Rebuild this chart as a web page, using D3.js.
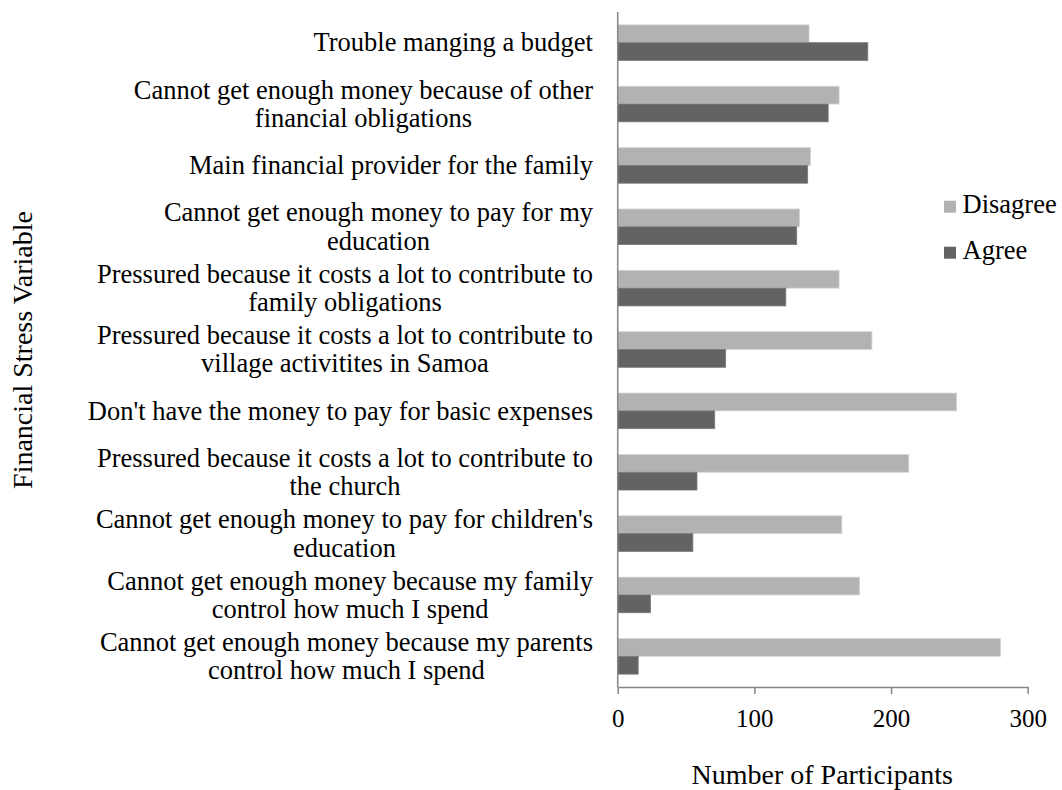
<!DOCTYPE html>
<html>
<head>
<meta charset="utf-8">
<script src="https://cdn.jsdelivr.net/npm/d3@7"></script>
<style>
  html, body { margin: 0; padding: 0; background: #ffffff; }
  svg { display: block; font-family: "Liberation Serif", "Times New Roman", serif; }
</style>
</head>
<body>
<svg id="chart" width="1062" height="790"></svg>
<script>
// Financial stress items, top to bottom; "\n" marks a line break in the label
const categories = [
  "Trouble manging a budget",
  "Cannot get enough money because of other\nfinancial obligations",
  "Main financial provider for the family",
  "Cannot get enough money to pay for my\neducation",
  "Pressured because it costs a lot to contribute to\nfamily obligations",
  "Pressured because it costs a lot to contribute to\nvillage activitites in Samoa",
  "Don't have the money to pay for basic expenses",
  "Pressured because it costs a lot to contribute to\nthe church",
  "Cannot get enough money to pay for children's\neducation",
  "Cannot get enough money because my family\ncontrol how much I spend",
  "Cannot get enough money because my parents\ncontrol how much I spend"
];
const disagree = [140, 162, 141, 133, 162, 186, 248, 213, 164, 177, 280];
const agree    = [183, 154, 139, 131, 123, 79, 71, 58, 55, 24, 15];
const seriesNames = ["Disagree", "Agree"];
const xTicks = [0, 100, 200, 300];

const colors = { Disagree: "#b2b2b2", Agree: "#636363" };
const axisColor = "#868686";

const svg = d3.select("#chart");

const plot = { left: 617.7, right: 1027.7, top: 12, bottom: 687 };

const x = d3.scaleLinear().domain([0, 300]).range([plot.left, plot.right]);
const y = d3.scaleBand()
  .domain(categories)
  .range([plot.top, plot.bottom])
  .paddingInner(0.42)
  .paddingOuter(0.21);
const ySub = d3.scaleBand().domain(seriesNames).range([0, y.bandwidth()]);

const rows = categories.map((c, i) => ({
  category: c,
  values: [
    { series: "Disagree", value: disagree[i] },
    { series: "Agree", value: agree[i] }
  ]
}));

// Bars
const groups = svg.append("g").selectAll("g")
  .data(rows)
  .join("g")
  .attr("transform", d => `translate(0,${y(d.category)})`);

groups.selectAll("rect")
  .data(d => d.values)
  .join("rect")
  .attr("x", x(0))
  .attr("y", d => ySub(d.series))
  .attr("width", d => x(d.value) - x(0))
  .attr("height", ySub.bandwidth())
  .attr("fill", d => colors[d.series])
  .attr("stroke", d => d.series === "Disagree" ? "#d4d4d4" : "#7a7a7a")
  .attr("stroke-width", 0.8);

// Bottom value axis
const xAxis = svg.append("g")
  .attr("transform", `translate(0,${plot.bottom})`)
  .call(d3.axisBottom(x).tickValues(xTicks).tickSize(7).tickPadding(15).tickSizeOuter(0));
xAxis.select(".domain").attr("stroke", axisColor).attr("stroke-width", 1.5);
xAxis.selectAll(".tick line").attr("stroke", axisColor).attr("stroke-width", 1.5);
xAxis.selectAll(".tick text")
  .attr("fill", "#000")
  .style("font-family", "'Liberation Serif', 'Times New Roman', serif")
  .style("font-size", "25px");

// Left category axis line
svg.append("line")
  .attr("x1", x(0)).attr("x2", x(0))
  .attr("y1", plot.top).attr("y2", plot.bottom)
  .attr("stroke", axisColor).attr("stroke-width", 1.5);

// Category labels: block right-aligned, lines centred within the block
const labelRight = 593;
const labelSize = 26.5;
const lineGap = 28.3;
const capHalf = labelSize * 0.662 / 2;

categories.forEach(c => {
  const lines = c.split("\n");
  const cy = y(c) + y.bandwidth() / 2;
  const text = svg.append("text")
    .attr("font-size", labelSize)
    .attr("fill", "#000");
  const spans = lines.map((ln, k) => text.append("tspan")
    .attr("text-anchor", "middle")
    .attr("y", cy + capHalf + (k - (lines.length - 1) / 2) * lineGap)
    .text(ln));
  const maxW = d3.max(spans, t => t.node().getComputedTextLength());
  spans.forEach(t => t.attr("x", labelRight - maxW / 2));
});

// Axis titles
svg.append("text")
  .attr("x", x(150) - 0.5).attr("y", 784)
  .attr("text-anchor", "middle")
  .attr("font-size", 28)
  .attr("fill", "#000")
  .text("Number of Participants");

svg.append("text")
  .attr("transform", "translate(32,350) rotate(-90)")
  .attr("text-anchor", "middle")
  .attr("font-size", 28)
  .attr("fill", "#000")
  .text("Financial Stress Variable");

// Legend
const legend = svg.append("g");
const legendY = [200.7, 246.7];
seriesNames.forEach((s, i) => {
  legend.append("rect")
    .attr("x", 944).attr("y", legendY[i])
    .attr("width", 12).attr("height", 12)
    .attr("fill", colors[s]);
  legend.append("text")
    .attr("x", 962.5).attr("y", legendY[i] + 12.5)
    .attr("font-size", 26.5)
    .attr("fill", "#000")
    .text(s);
});
</script>
</body>
</html>
